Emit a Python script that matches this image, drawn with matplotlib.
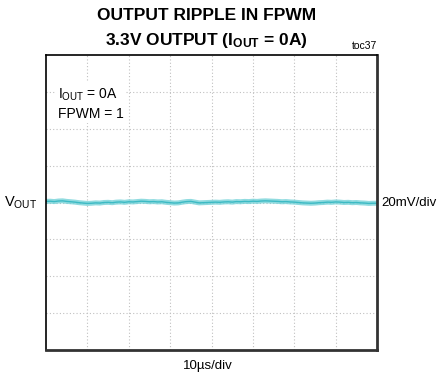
import matplotlib
matplotlib.use("Agg")
import matplotlib.pyplot as plt
import numpy as np

# scope trace, 10us/div, 20mV/div (mV about center)
t_us = np.arange(0, 81, 1.0)
v_mV = [0.6, 0.7, 0.5, 0.8, 0.9, 0.6, 0.4, 0.2, -0.1, -0.3,
        -0.5, -0.4, -0.2, -0.3, 0.0, 0.1, -0.1, 0.2, 0.3, 0.1,
        0.4, 0.3, 0.5, 0.7, 0.6, 0.4, 0.5, 0.3, 0.4, 0.1,
        -0.1, -0.3, -0.2, 0.2, 0.5, 0.6, 0.2, -0.2, -0.1, 0.0,
        0.1, 0.2, 0.1, 0.3, 0.4, 0.2, 0.5, 0.4, 0.6, 0.5,
        0.7, 0.6, 0.8, 0.9, 0.8, 0.7, 0.6, 0.4, 0.5, 0.3,
        0.2, 0.0, -0.2, -0.3, -0.4, -0.3, -0.1, 0.0, 0.2, 0.1,
        0.3, 0.2, 0.0, 0.1, -0.1, 0.0, -0.2, -0.3, -0.5, -0.4, -0.4]

mv_per_div = 20.0
us_per_div = 10.0
n_xdiv = 8
n_ydiv = 8

plt.rcParams['font.family'] = ['Liberation Sans', 'DejaVu Sans']
plt.rcParams['mathtext.fontset'] = 'custom'
plt.rcParams['mathtext.rm'] = 'Liberation Sans'
plt.rcParams['mathtext.bf'] = 'Liberation Sans:bold'

fig = plt.figure(figsize=(4.38, 3.81), dpi=100)
ax = fig.add_axes([0.105, 0.081, 0.756, 0.775])

x = np.array(t_us) / us_per_div
y = np.array(v_mV) / mv_per_div
ax.plot(x, y, color="#74d2d8", lw=3.6, alpha=0.8, solid_capstyle="butt")
ax.plot(x, y, color="#3cbac4", lw=1.0)

ax.set_xlim(0, n_xdiv)
ax.set_ylim(-n_ydiv / 2, n_ydiv / 2)
ax.set_xticks(np.arange(1, n_xdiv))
ax.set_yticks(np.arange(-n_ydiv / 2 + 1, n_ydiv / 2))
ax.grid(True, color="#c0c0c0", lw=0.8, ls=(0, (1, 2)))
ax.tick_params(length=0, labelleft=False, labelbottom=False)
for s in ["left", "top"]:
    ax.spines[s].set_linewidth(1.2)
for s in ["right", "bottom"]:
    ax.spines[s].set_linewidth(2.0)
    ax.spines[s].set_color("#333333")

fig.text(0.472, 0.96, "OUTPUT RIPPLE IN FPWM", ha="center", va="center",
         fontsize=12.5, fontweight="bold")
fig.text(0.472, 0.895, r"3.3V OUTPUT ($\mathbf{I_{OUT}}$ = 0A)", ha="center", va="center",
         fontsize=12.5, fontweight="bold")
fig.text(0.862, 0.88, "toc37", ha="right", va="center", fontsize=7.5)

ax.text(0.035, 0.835, r"$\mathregular{I_{OUT}}$ = 0A" + "\nFPWM = 1", transform=ax.transAxes,
        ha="left", va="center", fontsize=10, linespacing=1.35,
        bbox=dict(facecolor="white", edgecolor="none", pad=2))

fig.text(0.085, 0.468, r"$\mathregular{V_{OUT}}$", ha="right", va="center", fontsize=10.5)
fig.text(0.87, 0.468, "20mV/div", ha="left", va="center", fontsize=9.5)
fig.text(0.475, 0.04, "10µs/div", ha="center", va="center", fontsize=9.5)

fig.savefig("out.png", dpi=100)
